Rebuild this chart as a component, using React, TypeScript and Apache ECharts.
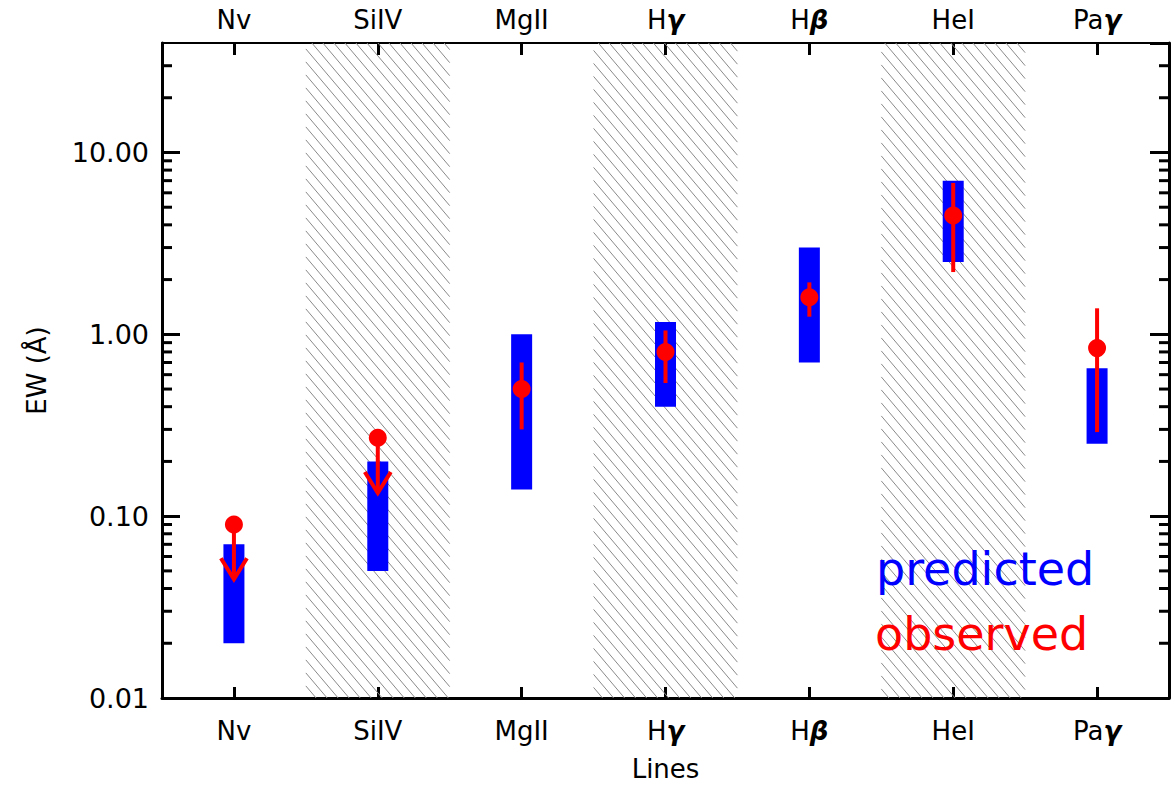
import React, { useEffect, useRef } from "react";
import * as echarts from "echarts";

const categories = ["Nv", "SiIV", "MgII", "Hγ", "Hβ", "HeI", "Paγ"];
const hatchedIdx = [1, 3, 5];
const predictedLow = [0.02, 0.05, 0.14, 0.4, 0.7, 2.5, 0.25];
const predictedHigh = [0.07, 0.2, 1.0, 1.17, 3.0, 7.0, 0.65];
const observed = [0.09, 0.27, 0.5, 0.8, 1.6, 4.5, 0.84];
const observedLow = [null, null, 0.3, 0.54, 1.25, 2.2, 0.29];
const observedHigh = [null, null, 0.7, 1.05, 1.93, 6.8, 1.39];
const upperLimitIdx = [0, 1];
const upperLimitTip = [0.045, 0.134];
const yMajorTicks = [0.01, 0.1, 1, 10];
const yMinorTicks = [
  0.02, 0.03, 0.04, 0.05, 0.06, 0.07, 0.08, 0.09,
  0.2, 0.3, 0.4, 0.5, 0.6, 0.7, 0.8, 0.9,
  2, 3, 4, 5, 6, 7, 8, 9,
  20, 30,
];
const yMin = 0.01;
const yMax = 40;

const FONT = "DejaVu Sans";

function catFormatter(v: string) {
  const m = v.match(/[γβ]/);
  if (!m) return v;
  return v.replace(m[0], "{g|" + m[0] + "}");
}

export default function App() {
  const ref = useRef<HTMLDivElement>(null);
  useEffect(() => {
    if (!ref.current) return;
    const chart = echarts.init(ref.current, null, { renderer: "svg" });

    const hatchData = hatchedIdx.map((i) => [i, 1]);
    const predData = categories.map((_, i) => [i, predictedLow[i], predictedHigh[i]]);
    const errData: number[][] = [];
    categories.forEach((_, i) => {
      if (observedLow[i] != null && observedHigh[i] != null) {
        errData.push([i, observedLow[i] as number, observedHigh[i] as number]);
      }
    });
    const limData = upperLimitIdx.map((i, k) => [i, observed[i], upperLimitTip[k]]);
    const obsData = categories.map((_, i) => [i, observed[i]]);
    const minorData = yMinorTicks.map((v) => [0, v]);

    const labelRich = {
      g: { fontFamily: FONT, fontSize: 26, fontWeight: "bold", fontStyle: "italic", color: "#000" },
    };

    const option: any = {
      animation: false,
      backgroundColor: "#fff",
      grid: { left: 162, right: 3, top: 43, bottom: 95 },
      xAxis: [
        {
          type: "category",
          data: categories,
          position: "bottom",
          boundaryGap: true,
          name: "Lines",
          nameLocation: "middle",
          nameGap: 58,
          nameTextStyle: { fontFamily: FONT, fontSize: 26, color: "#000" },
          axisLine: { show: true, lineStyle: { color: "#000", width: 3 } },
          axisTick: { show: true, inside: true, alignWithLabel: true, length: 11, lineStyle: { color: "#000", width: 3 } },
          axisLabel: {
            fontFamily: FONT, fontSize: 26, color: "#000", margin: 20,
            formatter: catFormatter, rich: labelRich,
          },
          splitLine: { show: false },
        },
        {
          type: "category",
          data: categories,
          position: "top",
          boundaryGap: true,
          axisLine: { show: true, lineStyle: { color: "#000", width: 2 } },
          axisTick: { show: true, inside: true, alignWithLabel: true, length: 12, lineStyle: { color: "#000", width: 3 } },
          axisLabel: {
            fontFamily: FONT, fontSize: 26, color: "#000", margin: 10,
            formatter: catFormatter, rich: labelRich,
          },
          splitLine: { show: false },
        },
      ],
      yAxis: [
        {
          type: "log",
          logBase: 10,
          min: yMin,
          max: yMax,
          position: "left",
          name: "EW (Å)",
          nameLocation: "middle",
          nameGap: 112,
          nameTextStyle: { fontFamily: FONT, fontSize: 26, color: "#000" },
          axisLine: { show: true, lineStyle: { color: "#000", width: 3 } },
          axisTick: { show: true, inside: true, length: 18, lineStyle: { color: "#000", width: 3 } },
          axisLabel: {
            fontFamily: FONT, fontSize: 27, color: "#000", margin: 13,
            showMaxLabel: false,
            formatter: (v: number) => {
              const ok = yMajorTicks.some((t) => Math.abs(v - t) / t < 1e-6);
              return ok ? v.toFixed(2) : "";
            },
          },
          splitLine: { show: false },
        },
        {
          type: "log",
          logBase: 10,
          min: yMin,
          max: yMax,
          position: "right",
          axisLine: { show: true, lineStyle: { color: "#000", width: 3 } },
          axisTick: { show: true, inside: true, length: 19, lineStyle: { color: "#000", width: 3 } },
          axisLabel: { show: false },
          splitLine: { show: false },
        },
      ],
      graphic: [
        {
          type: "text",
          x: 876,
          y: 569,
          z: 100,
          style: { text: "predicted", fill: "#0000ff", font: `46px "${FONT}"`, textVerticalAlign: "middle", textAlign: "left" },
        },
        {
          type: "text",
          x: 875,
          y: 634,
          z: 100,
          style: { text: "observed", fill: "#ff0000", font: `46px "${FONT}"`, textVerticalAlign: "middle", textAlign: "left" },
        },
      ],
      series: [
        {
          type: "custom",
          name: "hatch",
          silent: true,
          z: 1,
          data: hatchData,
          renderItem: (params: any, api: any) => {
            const cs = params.coordSys;
            const cx = api.coord([api.value(0), 1])[0];
            const bw = cs.width / categories.length;
            const x0 = cx - bw / 2;
            const x1 = cx + bw / 2;
            const y0 = cs.y;
            const y1 = cs.y + cs.height;
            const k = 1.18;
            const s = 13;
            const children: any[] = [];
            let c = Math.floor((y0 - k * x1) / s) * s;
            for (; c <= y1 - k * x0; c += s) {
              const xa = Math.max(x0, (y0 - c) / k);
              const xb = Math.min(x1, (y1 - c) / k);
              if (xb > xa) {
                children.push({
                  type: "line",
                  shape: { x1: xa, y1: k * xa + c, x2: xb, y2: k * xb + c },
                  style: { stroke: "#8a8a8a", lineWidth: 1 },
                });
              }
            }
            return { type: "group", children };
          },
        },
        {
          type: "custom",
          name: "minorTicks",
          silent: true,
          z: 5,
          data: minorData,
          renderItem: (params: any, api: any) => {
            const cs = params.coordSys;
            const y = api.coord([0, api.value(1)])[1];
            return {
              type: "group",
              children: [
                { type: "line", shape: { x1: cs.x, y1: y, x2: cs.x + 10, y2: y }, style: { stroke: "#000", lineWidth: 3 } },
                { type: "line", shape: { x1: cs.x + cs.width - 10, y1: y, x2: cs.x + cs.width, y2: y }, style: { stroke: "#000", lineWidth: 3 } },
              ],
            };
          },
        },
        {
          type: "custom",
          name: "predicted",
          silent: true,
          z: 2,
          data: predData,
          renderItem: (params: any, api: any) => {
            const i = api.value(0);
            const pHi = api.coord([i, api.value(2)]);
            const pLo = api.coord([i, api.value(1)]);
            return {
              type: "rect",
              shape: { x: pHi[0] - 10.5, y: pHi[1], width: 21, height: pLo[1] - pHi[1] },
              style: { fill: "#0000ff" },
            };
          },
        },
        {
          type: "custom",
          name: "obsErr",
          silent: true,
          z: 3,
          data: errData,
          renderItem: (params: any, api: any) => {
            const i = api.value(0);
            const pHi = api.coord([i, api.value(2)]);
            const pLo = api.coord([i, api.value(1)]);
            return {
              type: "line",
              shape: { x1: pHi[0], y1: pHi[1], x2: pLo[0], y2: pLo[1] },
              style: { stroke: "#ff0000", lineWidth: 4 },
            };
          },
        },
        {
          type: "custom",
          name: "upperLimits",
          silent: true,
          z: 3,
          data: limData,
          renderItem: (params: any, api: any) => {
            const i = api.value(0);
            const p = api.coord([i, api.value(1)]);
            const t = api.coord([i, api.value(2)]);
            const st = { stroke: "#ff0000", lineWidth: 4 };
            return {
              type: "group",
              children: [
                { type: "line", shape: { x1: p[0], y1: p[1], x2: t[0], y2: t[1] }, style: st },
                { type: "polyline", shape: { points: [[t[0] - 13, t[1] - 21], [t[0], t[1]], [t[0] + 13, t[1] - 21]] }, style: { ...st, fill: "none" } },
              ],
            };
          },
        },
        {
          type: "scatter",
          name: "observed",
          z: 4,
          symbol: "circle",
          symbolSize: 18,
          itemStyle: { color: "#ff0000", opacity: 1 },
          data: obsData,
        },
      ],
    };

    chart.setOption(option);
    return () => chart.dispose();
  }, []);

  return (
    <div
      ref={ref}
      style={{ position: "fixed", left: 0, top: 0, width: 1172, height: 793 }}
    />
  );
}
